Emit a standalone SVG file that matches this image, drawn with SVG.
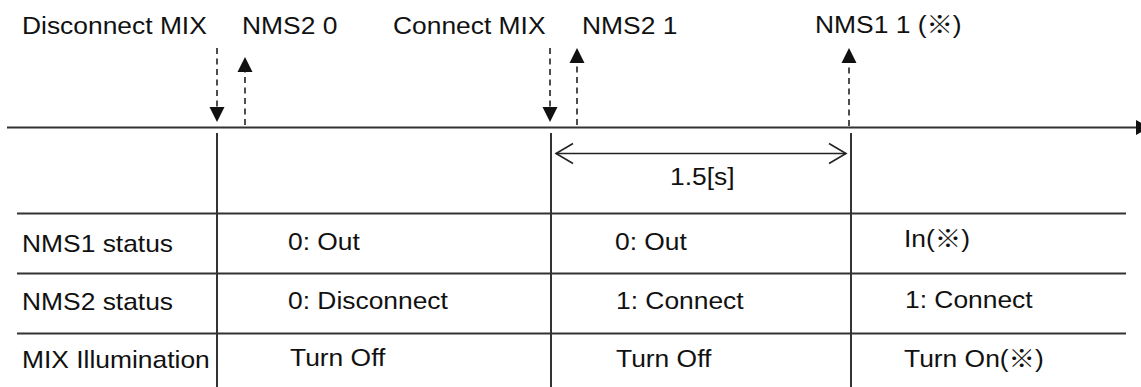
<svg xmlns="http://www.w3.org/2000/svg" width="1141" height="387" viewBox="0 0 1141 387">
  <style>
    .t { font-family: "Liberation Sans", Arial, "Noto Sans CJK JP", sans-serif; font-size: 24px; fill: #111; }
    .rule { stroke: #333; stroke-width: 2; fill: none; }
    .dash { stroke: #222; stroke-width: 1.6; stroke-dasharray: 6 4.5; fill: none; }
    .head { fill: #111; }
    .dim { stroke: #222; stroke-width: 1.6; fill: none; }
  </style>
  <rect width="1141" height="387" fill="#fff"/>

  <!-- time axis -->
  <g id="axis">
    <line class="rule" x1="7" y1="127.5" x2="1137" y2="127.5"/>
    <polygon class="head" points="1136,120 1136,135 1150,127.5"/>
  </g>

  <!-- table grid -->
  <g id="grid">
    <line class="rule" x1="217" y1="133" x2="217" y2="387"/>
    <line class="rule" x1="551" y1="133" x2="551" y2="387"/>
    <line class="rule" x1="851" y1="133" x2="851" y2="387"/>
    <line class="rule" x1="17" y1="213.5" x2="1126" y2="213.5"/>
    <line class="rule" x1="17" y1="273.5" x2="1126" y2="273.5"/>
    <line class="rule" x1="17" y1="333.5" x2="1126" y2="333.5"/>
  </g>

  <!-- event labels -->
  <g id="ev-disconnect-mix"><text class="t" transform="translate(22,33.5) scale(1.1,1)">Disconnect MIX</text></g>
  <g id="ev-nms2-0"><text class="t" transform="translate(242,33.5) scale(1.1,1)">NMS2 0</text></g>
  <g id="ev-connect-mix"><text class="t" transform="translate(393,34) scale(1.1,1)">Connect MIX</text></g>
  <g id="ev-nms2-1"><text class="t" transform="translate(582,34) scale(1.1,1)">NMS2 1</text></g>
  <g id="ev-nms1-1"><text class="t" transform="translate(815,33) scale(1.1,1)">NMS1 1 (※)</text></g>

  <!-- event arrows and interval -->
  <g id="connectors">
    <line class="dash" x1="217" y1="48" x2="217" y2="108"/>
    <polygon class="head" points="209.5,107 224.5,107 217,122"/>
    <line class="dash" x1="245" y1="125" x2="245" y2="71"/>
    <polygon class="head" points="237.5,72 252.5,72 245,57"/>
    <line class="dash" x1="550" y1="48" x2="550" y2="108"/>
    <polygon class="head" points="542.5,107 557.5,107 550,122"/>
    <line class="dash" x1="577" y1="125" x2="577" y2="62"/>
    <polygon class="head" points="569.5,63 584.5,63 577,48"/>
    <line class="dash" x1="849" y1="126" x2="849" y2="62"/>
    <polygon class="head" points="841.5,63 856.5,63 849,48"/>
    <line class="dim" x1="556" y1="153.5" x2="846" y2="153.5"/>
    <polyline class="dim" points="573,143.5 556,153.5 573,163.5"/>
    <polyline class="dim" points="829,143.5 846,153.5 829,163.5"/>
  </g>
  <g id="interval"><text class="t" transform="translate(670,185) scale(1.1,1)">1.5[s]</text></g>

  <!-- row: NMS1 status -->
  <g id="row-nms1">
    <text class="t" transform="translate(22,251.5) scale(1.1,1)">NMS1 status</text>
    <text class="t" transform="translate(288,250) scale(1.1,1)">0: Out</text>
    <text class="t" transform="translate(615,249.5) scale(1.1,1)">0: Out</text>
    <text class="t" transform="translate(904,247) scale(1.1,1)">In(※)</text>
  </g>

  <!-- row: NMS2 status -->
  <g id="row-nms2">
    <text class="t" transform="translate(22,309.5) scale(1.1,1)">NMS2 status</text>
    <text class="t" transform="translate(288,309) scale(1.1,1)">0: Disconnect</text>
    <text class="t" transform="translate(616,309) scale(1.1,1)">1: Connect</text>
    <text class="t" transform="translate(905,308) scale(1.1,1)">1: Connect</text>
  </g>

  <!-- row: MIX illumination -->
  <g id="row-mix">
    <text class="t" transform="translate(22,368) scale(1.1,1)">MIX Illumination</text>
    <text class="t" transform="translate(290,366) scale(1.1,1)">Turn Off</text>
    <text class="t" transform="translate(616,366.5) scale(1.1,1)">Turn Off</text>
    <text class="t" transform="translate(904,366.5) scale(1.1,1)">Turn On(※)</text>
  </g>
</svg>
